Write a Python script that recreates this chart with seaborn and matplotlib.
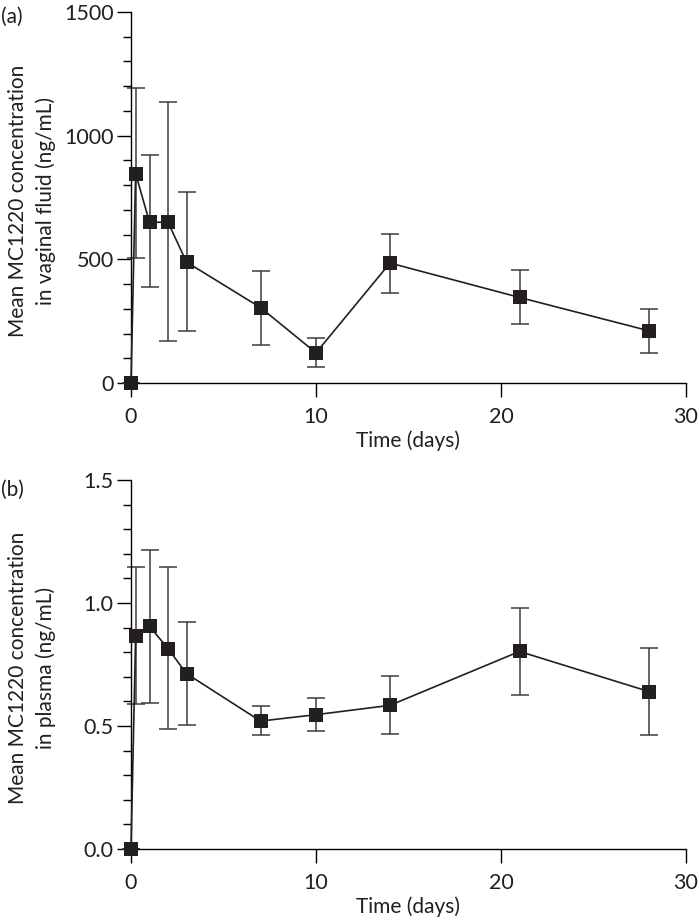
import matplotlib
matplotlib.use("Agg")
import matplotlib.pyplot as plt
import seaborn as sns
import pandas as pd
from matplotlib.ticker import MultipleLocator

sns.set_theme(style="ticks")
plt.rcParams['font.family'] = ['Lato', 'DejaVu Sans']

# Data
days = [0, 0.25, 1, 2, 3, 7, 10, 14, 21, 28]

vaginal_mean = [0, 847, 650, 650, 489, 305, 122, 485, 346, 211]
vaginal_upper = [0, 1192, 923, 1136, 771, 454, 181, 604, 455, 300]
vaginal_lower = [0, 507, 388, 171, 212, 154, 66, 364, 240, 123]

plasma_mean = [0, 0.865, 0.905, 0.815, 0.713, 0.520, 0.546, 0.584, 0.803, 0.640]
plasma_upper = [0, 1.148, 1.217, 1.146, 0.923, 0.582, 0.615, 0.702, 0.979, 0.817]
plasma_lower = [0, 0.589, 0.593, 0.486, 0.504, 0.463, 0.478, 0.469, 0.624, 0.462]

panel_labels = ["(a)", "(b)"]
ylabels = ["Mean MC1220 concentration\nin vaginal fluid (ng/mL)",
           "Mean MC1220 concentration\nin plasma (ng/mL)"]
xlabel = "Time (days)"

fig = plt.figure(figsize=(6.99, 9.24), dpi=100)
ax1 = fig.add_axes([131/699, 1-383/924, (686-131)/699, (383-12)/924])
ax2 = fig.add_axes([131/699, 1-849/924, (686-131)/699, (849-480)/924])

mark_color = "#231f20"
err_color = "#3c3c3c"
text_color = "#231f20"

configs = [
    (ax1, vaginal_mean, vaginal_upper, vaginal_lower, 1500, 500, 100, ["0", "500", "1000", "1500"]),
    (ax2, plasma_mean, plasma_upper, plasma_lower, 1.5, 0.5, 0.1, ["0.0", "0.5", "1.0", "1.5"]),
]

for i, (ax, mean, up, lo, ymax, major, minor, yticklabels) in enumerate(configs):
    df = pd.DataFrame({"day": days, "conc": mean})
    yerr = [[m - l for m, l in zip(mean, lo)], [u - m for m, u in zip(mean, up)]]
    ax.errorbar(days, mean, yerr=yerr, fmt="none", ecolor=err_color,
                elinewidth=1.1, capsize=6.5, capthick=1.1, zorder=2, clip_on=False)
    sns.lineplot(data=df, x="day", y="conc", ax=ax, color=mark_color,
                 linewidth=1.2, marker="s", markersize=10, markeredgewidth=0,
                 markerfacecolor=mark_color, zorder=3, clip_on=False)
    ax.set_xlim(0, 30)
    ax.set_ylim(0, ymax)
    ax.xaxis.set_major_locator(MultipleLocator(10))
    ax.yaxis.set_minor_locator(MultipleLocator(minor))
    ax.set_yticks([0, major, 2*major, 3*major])
    ax.set_yticklabels(yticklabels)
    ax.tick_params(axis="both", which="major", direction="out", length=10, width=1,
                   labelsize=15.5, color="black", labelcolor=text_color)
    ax.tick_params(axis="x", which="major", pad=7)
    ax.tick_params(axis="y", which="major", pad=2.5)
    ax.tick_params(axis="y", which="minor", direction="out", length=6, width=1, color="black")
    for s in ["top", "right"]:
        ax.spines[s].set_visible(False)
    for s in ["left", "bottom"]:
        ax.spines[s].set_color("black")
        ax.spines[s].set_linewidth(1)
    ax.set_xlabel(xlabel, fontsize=15, color=text_color, labelpad=3)
    ax.set_ylabel(ylabels[i], fontsize=15, color=text_color, linespacing=1.4)
    ax.yaxis.set_label_coords(-0.136, 0.49)
    ax.set_facecolor("white")

fig.text(1/699, 1-17/924, panel_labels[0], fontsize=15, color=text_color, va="center", ha="left")
fig.text(1/699, 1-490/924, panel_labels[1], fontsize=15, color=text_color, va="center", ha="left")

fig.savefig("out.png", dpi=100, facecolor="white")
